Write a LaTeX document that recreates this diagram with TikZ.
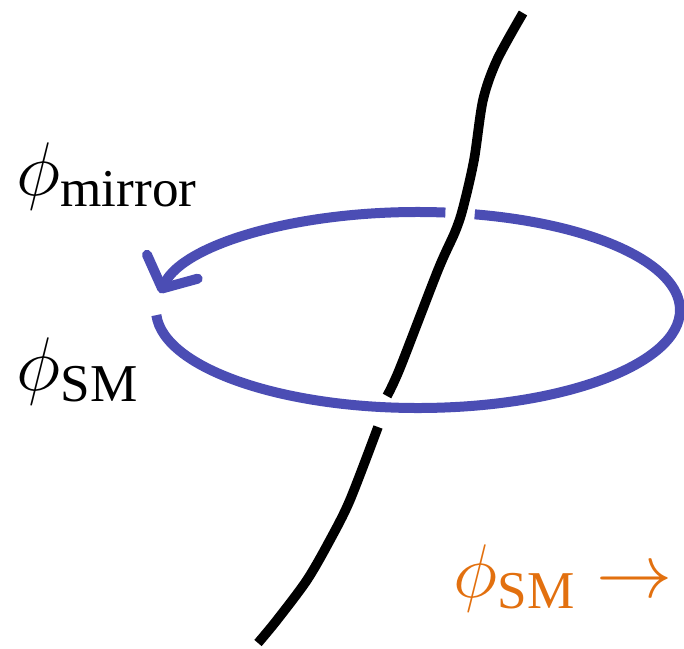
\RequirePackage{fix-cm}
\documentclass[tikz,border=0pt]{standalone}
\usepackage{amsmath}
\usepackage{fontspec}
\setmainfont{Liberation Serif}
\usepackage{tikz}
\usetikzlibrary{arrows.meta}
\definecolor{LoopBlue}{HTML}{4B4DB4}
\definecolor{FlowOrange}{HTML}{E2700F}

\begin{document}
\begin{tikzpicture}[x=0.5pt,y=-0.5pt,
  string/.style={line width=4.8pt,color=black},
  loop/.style={line width=5pt,color=LoopBlue},
  lbl/.style={anchor=base west,inner sep=0pt,font=\fontsize{38}{42}\selectfont}]
\useasboundingbox (0,0) rectangle (684,648);
\coordinate (ctr) at (418,310);
% loop, in front of the string at the bottom
\draw[loop] (ctr) ++(177:262 and 98)
  arc[start angle=177,end angle=-77.5,x radius=262,y radius=98];
\draw[loop,-{Straight Barb[round,length=12pt,width=28pt]}] (ctr) ++(-84:262 and 98)
  arc[start angle=-84,end angle=-170,x radius=262,y radius=98];
% string
\draw[string] plot[smooth] coordinates {(523,13) (497,60) (483,100) (474,160)
  (463,208) (455,232) (438,270) (400,368) (387,396)};
\draw[string] plot[smooth] coordinates {(378,427) (350,500) (330,540) (307,580)
  (277,620) (258,643)};
% labels
\node[lbl] (mirror) at (16,195) {$\phi_{\text{mirror}}$};
\node[lbl] (sm) at (16,390) {$\phi_{\text{SM}}$};
\node[lbl,text=FlowOrange] (flow) at (453,597) {$\phi_{\text{SM}}\rightarrow$};
\end{tikzpicture}
\end{document}
